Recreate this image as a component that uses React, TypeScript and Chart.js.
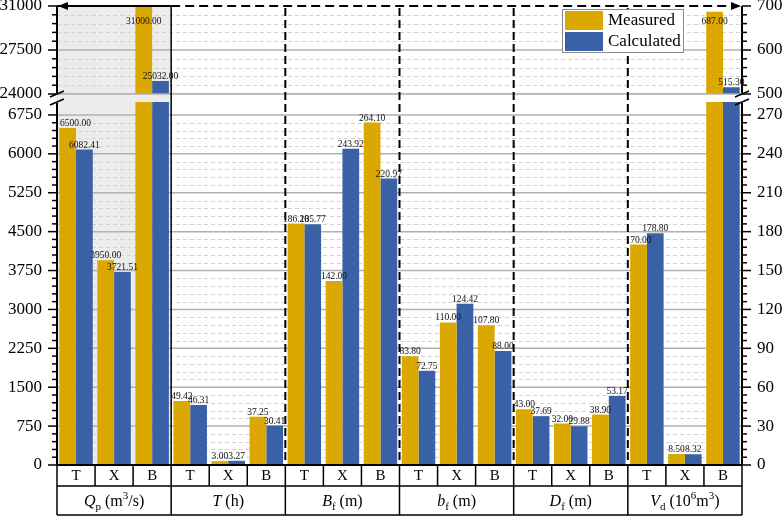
import React, { useEffect, useRef } from "react";
import { Chart, Plugin, registerables } from "chart.js";

Chart.register(...registerables);

// ---- data -------------------------------------------------------------
const subCategories = ["T", "X", "B"];
const groupKeys = ["Qp", "T", "Bf", "bf", "Df", "Vd"];
// which y-axis each group is read against
const groupAxis = ["left", "right", "right", "right", "right", "right"];

const measured = [
  6500.0, 3950.0, 31000.0,
  49.42, 3.0, 37.25,
  186.2, 142.0, 264.1,
  83.8, 110.0, 107.8,
  43.0, 32.0, 38.9,
  170.0, 8.5, 687.0,
];
const calculated = [
  6082.41, 3721.51, 25032.0,
  46.31, 3.27, 30.41,
  185.77, 243.92, 220.97,
  72.75, 124.42, 88.0,
  37.69, 29.88, 53.17,
  178.8, 8.32, 515.3,
];

const leftTicksLower = [0, 750, 1500, 2250, 3000, 3750, 4500, 5250, 6000, 6750];
const leftTicksUpper = [24000, 27500, 31000];
const rightTicksLower = [0, 30, 60, 90, 120, 150, 180, 210, 240, 270];
const rightTicksUpper = [500, 600, 700];

type Seg = { t: string; it?: boolean; sub?: boolean; sup?: boolean };
const groupTitles: Seg[][] = [
  [{ t: "Q", it: true }, { t: "p", sub: true }, { t: " (m" }, { t: "3", sup: true }, { t: "/s)" }],
  [{ t: "T", it: true }, { t: " (h)" }],
  [{ t: "B", it: true }, { t: "f", sub: true }, { t: " (m)" }],
  [{ t: "b", it: true }, { t: "f", sub: true }, { t: " (m)" }],
  [{ t: "D", it: true }, { t: "f", sub: true }, { t: " (m)" }],
  [{ t: "V", it: true }, { t: "d", sub: true }, { t: " (10" }, { t: "6", sup: true }, { t: "m" }, { t: "3", sup: true }, { t: ")" }],
];

// ---- broken axis mapping ---------------------------------------------
const LOW_MAX = 7000;
const UP_MIN = 24000;
const UP_MAX = 31000;
const LOW_PX = 363;
const GAP_PX = 8;
const UP_PX = 88;
const V_PER_PX = LOW_MAX / LOW_PX;
const GAP_V = GAP_PX * V_PER_PX;
const UP_K = (UP_PX * V_PER_PX) / (UP_MAX - UP_MIN);
const V_MAX = (LOW_PX + GAP_PX + UP_PX) * V_PER_PX;

const leftToV = (l: number) => (l <= LOW_MAX ? l : LOW_MAX + GAP_V + (l - UP_MIN) * UP_K);
const rightToLeft = (r: number) =>
  r <= 280 ? r * 25 : UP_MIN + ((r - 500) * (UP_MAX - UP_MIN)) / 200;
const toV = (val: number, i: number) =>
  leftToV(groupAxis[Math.floor(i / 3)] === "left" ? val : rightToLeft(val));

const GOLD = "#DAA800";
const BLUE = "#3A60A6";
const FONT = "Liberation Serif";

const majorLeft = [...leftTicksLower, ...leftTicksUpper];
const minorLeft: number[] = [];
for (let l = 150; l < 6750; l += 150) if (l % 750 !== 0) minorLeft.push(l);
for (let l = 24700; l < 31000; l += 700) if (l !== 27500) minorLeft.push(l);

const line = (ctx: CanvasRenderingContext2D, x1: number, y1: number, x2: number, y2: number) => {
  ctx.beginPath();
  ctx.moveTo(x1, y1);
  ctx.lineTo(x2, y2);
  ctx.stroke();
};

const decorPlugin: Plugin<"bar"> = {
  id: "decor",
  beforeDatasetsDraw(chart) {
    const { ctx, chartArea: a } = chart;
    const y = chart.scales.y;
    const gw = (a.right - a.left) / groupKeys.length;
    ctx.save();
    ctx.fillStyle = "#ececec";
    ctx.fillRect(a.left, a.top, gw, a.bottom - a.top);

    ctx.strokeStyle = "#d2d2d2";
    ctx.lineWidth = 1;
    ctx.setLineDash([4, 3]);
    minorLeft.forEach((l) => {
      const py = Math.round(y.getPixelForValue(leftToV(l))) + 0.5;
      line(ctx, a.left, py, a.right, py);
    });
    ctx.setLineDash([]);
    ctx.strokeStyle = "#b0b0b0";
    ctx.lineWidth = 1.5;
    majorLeft.forEach((l) => {
      if (l === 0 || l === 31000) return;
      const py = y.getPixelForValue(leftToV(l));
      line(ctx, a.left, py, a.right, py);
    });
    ctx.restore();
  },
  afterDatasetsDraw(chart) {
    const { ctx, chartArea: a } = chart;
    const y = chart.scales.y;
    const gw = (a.right - a.left) / groupKeys.length;
    const cw = gw / 3;
    const yTop = y.getPixelForValue(leftToV(UP_MIN));
    const yBot = y.getPixelForValue(LOW_MAX);
    ctx.save();

    // break band
    ctx.fillStyle = "#ffffff";
    ctx.fillRect(a.left, yTop, a.right - a.left, yBot - yTop);
    ctx.fillStyle = "#ececec";
    ctx.fillRect(a.left, yTop, gw, yBot - yTop);
    ctx.strokeStyle = "#b0b0b0";
    ctx.lineWidth = 1.5;
    line(ctx, a.left, yTop, a.right, yTop);

    // group separators
    ctx.strokeStyle = "#000";
    ctx.lineWidth = 1.5;
    line(ctx, a.left + gw, a.top, a.left + gw, a.bottom);
    ctx.lineWidth = 2;
    ctx.setLineDash([8, 4]);
    for (let g = 2; g < groupKeys.length; g++) {
      const x = a.left + gw * g;
      line(ctx, x, a.top + 2, x, a.bottom);
    }

    // top border: solid over the left-axis group, dashed over the rest
    ctx.setLineDash([9, 5]);
    line(ctx, a.left + gw, a.top, a.right - 10, a.top);
    ctx.setLineDash([]);
    line(ctx, a.left, a.top, a.left + gw, a.top);
    ctx.fillStyle = "#000";
    ctx.beginPath();
    ctx.moveTo(a.left + 1, a.top);
    ctx.lineTo(a.left + 11, a.top - 4);
    ctx.lineTo(a.left + 11, a.top + 4);
    ctx.closePath();
    ctx.fill();
    ctx.beginPath();
    ctx.moveTo(a.right - 1, a.top);
    ctx.lineTo(a.right - 11, a.top - 4);
    ctx.lineTo(a.right - 11, a.top + 4);
    ctx.closePath();
    ctx.fill();

    // axis lines with a break
    ctx.lineWidth = 2;
    [a.left, a.right].forEach((x) => {
      line(ctx, x, a.top, x, yTop - 1);
      line(ctx, x, yBot + 1, x, a.bottom);
    });
    line(ctx, a.left, a.bottom, a.right, a.bottom);

    // tick marks
    ctx.lineWidth = 1.5;
    majorLeft.forEach((l) => {
      const py = y.getPixelForValue(leftToV(l));
      line(ctx, a.left - 9, py, a.left, py);
      line(ctx, a.right, py, a.right + 9, py);
    });
    minorLeft.forEach((l) => {
      const py = y.getPixelForValue(leftToV(l));
      line(ctx, a.left - 5, py, a.left, py);
      line(ctx, a.right, py, a.right + 5, py);
    });

    // break marks
    ctx.lineWidth = 1.5;
    [a.left, a.right].forEach((x) => {
      [yTop, yBot].forEach((py) => line(ctx, x - 7, py + 3, x + 7, py - 3));
    });

    // value labels
    ctx.fillStyle = "#111";
    ctx.font = `9.5px "${FONT}"`;
    ctx.textAlign = "center";
    ctx.textBaseline = "alphabetic";
    [measured, calculated].forEach((vals, di) => {
      const meta = chart.getDatasetMeta(di);
      meta.data.forEach((bar: any, i: number) => {
        const txt = vals[i].toFixed(2);
        const w = ctx.measureText(txt).width;
        const bx = Math.max(bar.x, a.left + 3 + w / 2);
        const by = Math.max(bar.y - 2, a.top + 18);
        ctx.fillText(txt, bx, by);
      });
    });

    // legend
    const lx = a.right - 180;
    const ly = a.top + 3;
    ctx.fillStyle = "#fff";
    ctx.fillRect(lx, ly, 121, 43);
    ctx.strokeStyle = "#8a8a8a";
    ctx.lineWidth = 1;
    ctx.strokeRect(lx + 0.5, ly + 0.5, 121, 43);
    ctx.fillStyle = GOLD;
    ctx.fillRect(lx + 3, ly + 2, 38, 19);
    ctx.fillStyle = BLUE;
    ctx.fillRect(lx + 3, ly + 23, 38, 19);
    ctx.fillStyle = "#000";
    ctx.font = `17px "${FONT}"`;
    ctx.textAlign = "left";
    ctx.textBaseline = "middle";
    ctx.fillText("Measured", lx + 46, ly + 12);
    ctx.fillText("Calculated", lx + 46, ly + 33);

    // category boxes under the axis
    const r0 = a.bottom;
    const r1 = a.bottom + 21;
    const r2 = a.bottom + 50;
    ctx.strokeStyle = "#000";
    ctx.lineWidth = 1.5;
    line(ctx, a.left, r1, a.right, r1);
    line(ctx, a.left, r2, a.right, r2);
    for (let c = 0; c <= groupKeys.length * 3; c++) {
      const x = a.left + cw * c;
      line(ctx, x, r0, x, c % 3 === 0 ? r2 : r1);
    }

    // group titles
    const mainF = `16px "${FONT}"`;
    const itF = `italic 16px "${FONT}"`;
    const smallF = `11px "${FONT}"`;
    ctx.textBaseline = "alphabetic";
    ctx.textAlign = "left";
    groupTitles.forEach((segs, g) => {
      const fontOf = (s: Seg) => (s.sub || s.sup ? smallF : s.it ? itF : mainF);
      let total = 0;
      segs.forEach((s) => {
        ctx.font = fontOf(s);
        total += ctx.measureText(s.t).width;
      });
      let x = a.left + gw * (g + 0.5) - total / 2;
      const base = r1 + 20;
      segs.forEach((s) => {
        ctx.font = fontOf(s);
        const dy = s.sub ? 4 : s.sup ? -7 : 0;
        ctx.fillText(s.t, x, base + dy);
        x += ctx.measureText(s.t).width;
      });
    });
    ctx.restore();
  },
};

const categoryLabels = groupKeys.flatMap(() => subCategories);

const yAxis = (
  position: "left" | "right",
  lower: number[],
  upper: number[],
  toLeft: (n: number) => number,
  width: number
) => {
  const all = [...lower, ...upper];
  return {
    type: "linear" as const,
    position,
    min: 0,
    max: V_MAX,
    grid: { display: false, drawTicks: false },
    border: { display: false },
    ticks: {
      autoSkip: false,
      color: "#000",
      padding: 15,
      font: { family: FONT, size: 17 },
      callback: (_v: any, i: number) => String(all[i]),
    },
    afterBuildTicks: (axis: any) => {
      axis.ticks = all.map((t) => ({ value: leftToV(toLeft(t)) }));
    },
    afterFit: (axis: any) => {
      axis.width = width;
      axis.paddingTop = 0;
      axis.paddingBottom = 0;
    },
  };
};

export default function App() {
  const canvasRef = useRef<HTMLCanvasElement | null>(null);

  useEffect(() => {
    document.body.style.margin = "0";
    const canvas = canvasRef.current;
    if (!canvas) return;

    const chart = new Chart(canvas, {
      type: "bar",
      data: {
        labels: categoryLabels,
        datasets: [
          {
            label: "Measured",
            data: measured.map(toV),
            backgroundColor: GOLD,
            borderWidth: 0,
            barPercentage: 1,
            categoryPercentage: 0.88,
          },
          {
            label: "Calculated",
            data: calculated.map(toV),
            backgroundColor: BLUE,
            borderWidth: 0,
            barPercentage: 1,
            categoryPercentage: 0.88,
          },
        ],
      },
      options: {
        animation: false,
        responsive: true,
        maintainAspectRatio: false,
        layout: { padding: { top: 6, bottom: 31, left: 0, right: 0 } },
        plugins: {
          legend: { display: false },
          tooltip: { enabled: false },
        },
        scales: {
          x: {
            grid: { display: false, drawTicks: false },
            border: { display: false },
            ticks: {
              color: "#000",
              padding: 2,
              maxRotation: 0,
              autoSkip: false,
              font: { family: FONT, size: 15 },
            },
            afterFit: (axis: any) => {
              axis.height = 21;
              axis.paddingLeft = 0;
              axis.paddingRight = 0;
            },
          },
          y: yAxis("left", leftTicksLower, leftTicksUpper, (l) => l, 57),
          y1: yAxis("right", rightTicksLower, rightTicksUpper, rightToLeft, 40),
        },
      },
      plugins: [decorPlugin],
    });

    return () => chart.destroy();
  }, []);

  return (
    <div style={{ width: 782, height: 517, position: "relative" }}>
      <canvas ref={canvasRef} />
    </div>
  );
}
